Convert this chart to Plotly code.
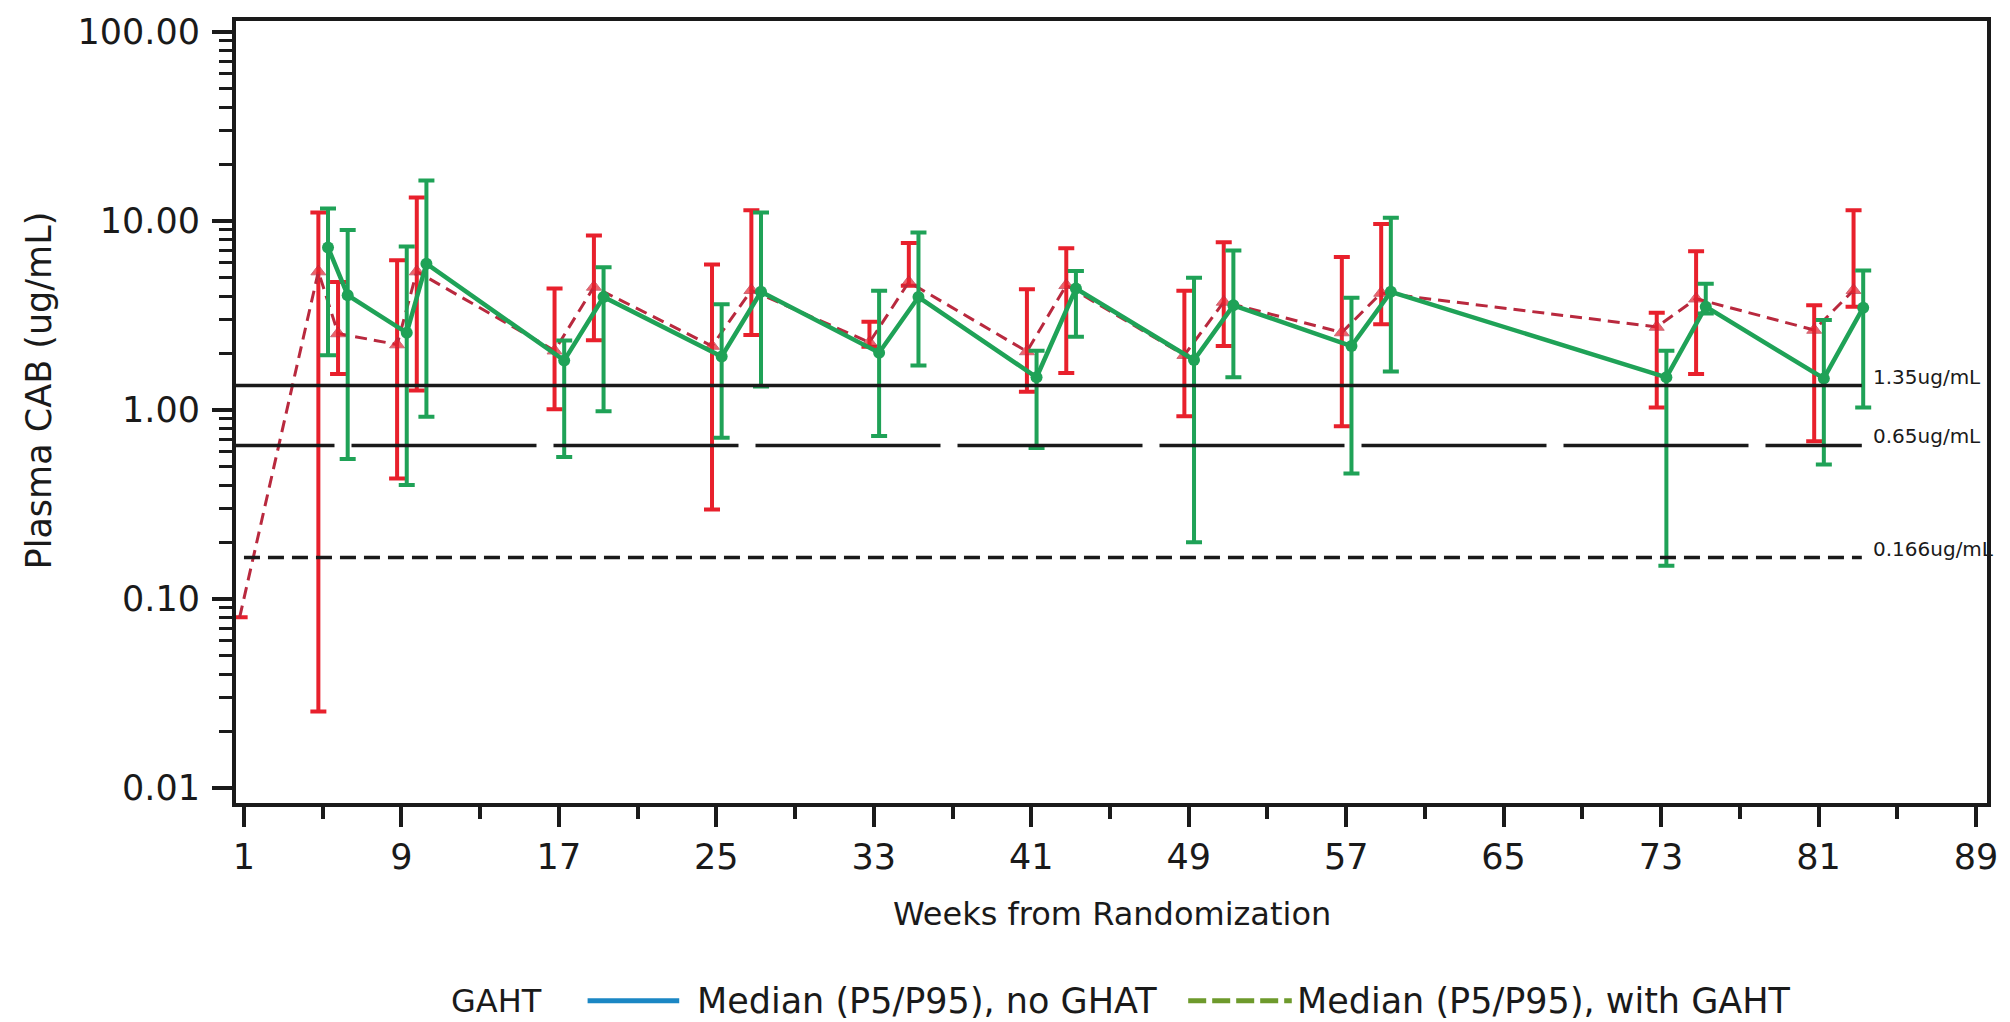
import math
import plotly.graph_objects as go

# ---------------- data ----------------
red_weeks = [1, 5, 6, 9, 10, 17, 19, 25, 27, 33, 35, 41, 43, 49, 51, 57, 59, 73, 75, 81, 83]
red_median = [0.08, 5.4, 2.54, 2.22, 5.4, 2.06, 4.48, 2.18, 4.3, 2.28, 4.75, 2.04, 4.57, 1.95, 3.73, 2.57, 4.16, 2.75, 3.88, 2.65, 4.3]
red_p5 = [None, 0.0254, 1.55, 0.434, 1.27, 1.01, 2.34, 0.298, 2.49, 2.16, 4.55, 1.25, 1.57, 0.927, 2.18, 0.82, 2.84, 1.03, 1.55, 0.684, 3.52]
red_p95 = [None, 11.1, 4.75, 6.2, 13.3, 4.39, 8.37, 5.89, 11.4, 2.93, 7.64, 4.35, 7.18, 4.27, 7.73, 6.44, 9.64, 3.27, 6.92, 3.58, 11.4]

green_weeks = [5, 6, 9, 10, 17, 19, 25, 27, 33, 35, 41, 43, 49, 51, 57, 59, 73, 75, 81, 83]
green_median = [7.25, 4.05, 2.56, 5.94, 1.83, 3.96, 1.92, 4.22, 2.01, 3.96, 1.49, 4.39, 1.84, 3.58, 2.18, 4.22, 1.49, 3.52, 1.47, 3.48]
green_p5 = [1.95, 0.55, 0.401, 0.92, 0.564, 0.984, 0.713, 1.33, 0.728, 1.72, 0.63, 2.44, 0.2, 1.49, 0.462, 1.6, 0.15, 3.24, 0.515, 1.03]
green_p95 = [11.65, 8.95, 7.33, 16.4, 2.33, 5.7, 3.63, 11.1, 4.27, 8.7, 2.06, 5.43, 5.01, 6.98, 3.92, 10.4, 2.06, 4.66, 2.99, 5.47]

thresholds = [1.35, 0.65, 0.166]
threshold_labels = ["1.35ug/mL", "0.65ug/mL", "0.166ug/mL"]

x_tick_vals = [1, 9, 17, 25, 33, 41, 49, 57, 65, 73, 81, 89]
y_tick_vals = [0.01, 0.1, 1, 10, 100]
y_tick_text = ["0.01", "0.10", "1.00", "10.00", "100.00"]

legend_title = "GAHT"
legend_labels = ["Median (P5/P95), no GHAT", "Median (P5/P95), with GAHT"]

x_title = "Weeks from Randomization"
y_title = "Plasma CAB (ug/mL)"

# ---------------- style ----------------
FONT = "DejaVu Sans"
RED = "#E8202C"
RED_LINE = "#B9293E"
GREEN = "#1FA257"
BLUE = "#1B87C4"
OLIVE = "#6E9A2C"
BLACK = "#1a1a1a"
RED_OFF = -0.22
GREEN_OFF = 0.27

W, H = 2010, 1022
L, R, T, B = 236, 16, 16, 219
PW, PH = W - L - R, H - T - B


def px_x(px):
    return (px - L) / PW


def px_y(py):
    return (H - B - py) / PH


def err_plus(med, hi):
    return [None if h is None else h - m for m, h in zip(med, hi)]


def err_minus(med, lo):
    return [None if l is None else m - l for m, l in zip(med, lo)]


fig = go.Figure()

# red (with GAHT)
fig.add_trace(go.Scatter(
    x=[w + RED_OFF for w in red_weeks], y=red_median,
    mode="lines+markers",
    line=dict(color=RED_LINE, width=3, dash="12px,7px"),
    marker=dict(symbol="triangle-up", size=[0 if p is None else 13 for p in red_p5], color=RED),
    error_y=dict(type="data", symmetric=False,
                 array=err_plus(red_median, red_p95),
                 arrayminus=err_minus(red_median, red_p5),
                 color=RED, thickness=4, width=8),
    showlegend=False, name=legend_labels[1],
))

# green (no GAHT)
fig.add_trace(go.Scatter(
    x=[w + GREEN_OFF for w in green_weeks], y=green_median,
    mode="lines+markers",
    line=dict(color=GREEN, width=4.5),
    marker=dict(symbol="circle", size=12, color=GREEN),
    error_y=dict(type="data", symmetric=False,
                 array=err_plus(green_median, green_p95),
                 arrayminus=err_minus(green_median, green_p5),
                 color=GREEN, thickness=4, width=8),
    showlegend=False, name=legend_labels[0],
))

# threshold lines
x_end = 83.2
dashes = ["solid", "185px,17px", "16px,8px"]
starts = [0.5, -3.8, 1.0]
shifts = [8, 9, 8]
for val, lab, dsh, x0, ys in zip(thresholds, threshold_labels, dashes, starts, shifts):
    fig.add_trace(go.Scatter(
        x=[x0, x_end], y=[val, val], mode="lines",
        line=dict(color=BLACK, width=3.5, dash=dsh),
        showlegend=False, hoverinfo="skip",
    ))
    fig.add_annotation(
        x=x_end + 0.45, y=math.log10(val), xref="x", yref="y",
        text=lab, showarrow=False, xanchor="left", yanchor="middle",
        yshift=ys, font=dict(family=FONT, size=20, color=BLACK),
    )

# axis titles
fig.add_annotation(
    x=0.5, y=px_y(915), xref="paper", yref="paper", text=x_title,
    showarrow=False, xanchor="center", yanchor="middle",
    font=dict(family=FONT, size=32, color=BLACK),
)
fig.add_annotation(
    x=px_x(38), y=px_y(388), xref="paper", yref="paper", text=y_title,
    showarrow=False, xanchor="center", yanchor="middle", textangle=-90,
    font=dict(family=FONT, size=35, color=BLACK),
)

# custom legend
leg_y = px_y(1002)
fig.add_annotation(x=px_x(450), y=leg_y, xref="paper", yref="paper", text=legend_title,
                   showarrow=False, xanchor="left", yanchor="middle",
                   font=dict(family=FONT, size=32, color=BLACK))
fig.add_shape(type="line", xref="paper", yref="paper",
              x0=px_x(589), x1=px_x(681), y0=leg_y, y1=leg_y,
              line=dict(color=BLUE, width=5))
fig.add_annotation(x=px_x(697), y=leg_y, xref="paper", yref="paper", text=legend_labels[0],
                   showarrow=False, xanchor="left", yanchor="middle",
                   font=dict(family=FONT, size=35, color=BLACK))
fig.add_shape(type="line", xref="paper", yref="paper",
              x0=px_x(1192), x1=px_x(1296), y0=leg_y, y1=leg_y,
              line=dict(color=OLIVE, width=5, dash="18px,6px"))
fig.add_annotation(x=px_x(1299), y=leg_y, xref="paper", yref="paper", text=legend_labels[1],
                   showarrow=False, xanchor="left", yanchor="middle",
                   font=dict(family=FONT, size=35, color=BLACK))

x_minor = [v + 4 for v in x_tick_vals[:-1]]
y_minor = [m * d for d in [0.01, 0.1, 1, 10] for m in range(2, 10)]

fig.update_layout(
    width=W, height=H,
    margin=dict(l=L, r=R, t=T, b=B),
    paper_bgcolor="white", plot_bgcolor="white",
    font=dict(family=FONT, color=BLACK),
    xaxis=dict(
        range=[0.595, 89.56], tickmode="array", tickvals=x_tick_vals,
        ticks="outside", ticklen=20, tickwidth=3.5, tickcolor=BLACK,
        showline=True, linewidth=4, linecolor=BLACK, mirror=True,
        showgrid=False, zeroline=False, ticklabelstandoff=0,
        tickfont=dict(family=FONT, size=35, color=BLACK),
        minor=dict(tickmode="array", tickvals=x_minor, ticks="outside",
                   ticklen=12, tickwidth=3.5, tickcolor=BLACK, showgrid=False),
    ),
    yaxis=dict(
        type="log", range=[-2.079, 2.058], tickmode="array",
        tickvals=y_tick_vals, ticktext=y_tick_text,
        ticks="outside", ticklen=20, tickwidth=3.5, tickcolor=BLACK,
        showline=True, linewidth=4, linecolor=BLACK, mirror=True,
        showgrid=False, zeroline=False, ticklabelstandoff=5,
        tickfont=dict(family=FONT, size=35, color=BLACK),
        minor=dict(tickmode="array", tickvals=y_minor, ticks="outside",
                   ticklen=13, tickwidth=3, tickcolor=BLACK, showgrid=False),
    ),
)

fig.write_html(
    "out.html",
    config={"displayModeBar": False},
    post_script="document.body.style.margin='0px';document.body.style.padding='0px';",
)
